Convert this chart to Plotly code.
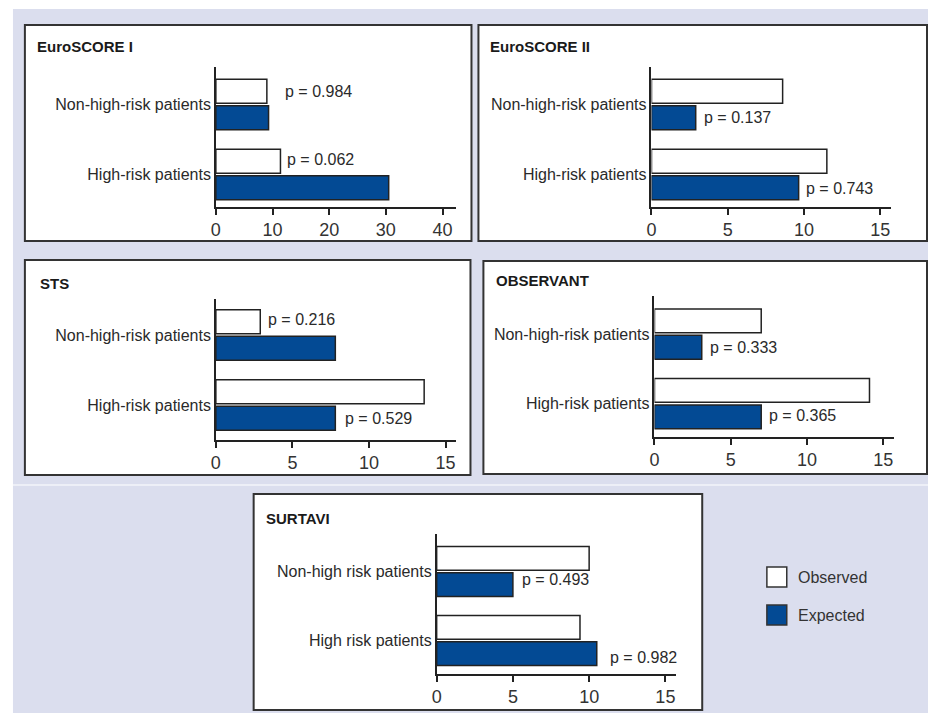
import plotly.graph_objects as go

W, H = 928, 713

# ---------------- data ----------------
categories = ["High-risk patients", "Non-high-risk patients"]
surtavi_categories = ["High risk patients", "Non-high risk patients"]
panel_titles = ["EuroSCORE I", "EuroSCORE II", "STS", "OBSERVANT", "SURTAVI"]

euroscore1_observed = [11.4, 9.0]
euroscore1_expected = [30.5, 9.3]
euroscore2_observed = [11.5, 8.6]
euroscore2_expected = [9.65, 2.9]
sts_observed = [13.6, 2.9]
sts_expected = [7.8, 7.8]
observant_observed = [14.1, 7.0]
observant_expected = [7.0, 3.1]
surtavi_observed = [9.4, 10.0]
surtavi_expected = [10.5, 5.0]

euroscore1_p = ["p = 0.062", "p = 0.984"]
euroscore2_p = ["p = 0.743", "p = 0.137"]
sts_p = ["p = 0.529", "p = 0.216"]
observant_p = ["p = 0.365", "p = 0.333"]
surtavi_p = ["p = 0.982", "p = 0.493"]

# which bar each p label sits next to (per category)
euroscore1_p_row = ["observed", "observed"]
euroscore2_p_row = ["expected", "expected"]
sts_p_row = ["expected", "observed"]
observant_p_row = ["expected", "expected"]
surtavi_p_row = ["expected", "expected"]

ticks_40 = [0, 10, 20, 30, 40]
ticks_15 = [0, 5, 10, 15]

legend_labels = ["Observed", "Expected"]

# ---------------- style / layout ----------------
BG = "#dbdeee"
BLUE = "#034a94"
EDGE = "#222222"
FONT = "Liberation Sans, Arial, sans-serif"

panels = [
    dict(title=panel_titles[0], cats=categories, obs=euroscore1_observed, exp=euroscore1_expected,
         p=euroscore1_p, prow=euroscore1_p_row, ticks=ticks_40,
         box=(20, 25, 469, 241), plot=(212, 453, 67, 207), xr=[0, 42.3], yr=[-0.464, 1.536],
         title_pos=(30, 47), pshift=[(5, 2), (16, 0)]),
    dict(title=panel_titles[1], cats=categories, obs=euroscore2_observed, exp=euroscore2_expected,
         p=euroscore2_p, prow=euroscore2_p_row, ticks=ticks_15,
         box=(476, 25, 927, 241), plot=(650, 891, 67, 207), xr=[0, 15.72], yr=[-0.464, 1.536],
         title_pos=(486, 47), pshift=[(5, -1), (6, 0)]),
    dict(title=panel_titles[2], cats=categories, obs=sts_observed, exp=sts_expected,
         p=sts_p, prow=sts_p_row, ticks=ticks_15,
         box=(20, 260, 468, 475), plot=(212, 453, 299, 440), xr=[0, 15.65], yr=[-0.5, 1.514],
         title_pos=(33, 283), pshift=[(8, 0), (6, 2)]),
    dict(title=panel_titles[3], cats=categories, obs=observant_observed, exp=observant_expected,
         p=observant_p, prow=observant_p_row, ticks=ticks_15,
         box=(481, 261, 927, 474), plot=(653, 894, 296, 437), xr=[0, 15.72], yr=[-0.48, 1.547],
         title_pos=(492, 280), pshift=[(6, 1), (6, 0)]),
    dict(title=panel_titles[4], cats=surtavi_categories, obs=surtavi_observed, exp=surtavi_expected,
         p=surtavi_p, prow=surtavi_p_row, ticks=ticks_15,
         box=(250, 494, 701, 710), plot=(434, 675, 534, 674), xr=[0, 15.72], yr=[-0.486, 1.543],
         title_pos=(260, 518), pshift=[(11, -4), (7, 5)]),
]


def px(x):
    return x / W


def py(y):
    return 1 - y / H


fig = go.Figure()
shapes = [
    dict(type="rect", xref="paper", yref="paper", x0=px(8), x1=1, y0=0, y1=py(9),
         fillcolor=BG, line=dict(width=0), layer="below"),
    dict(type="line", xref="paper", yref="paper", x0=px(8), x1=1, y0=py(485), y1=py(485),
         line=dict(color="white", width=1.2), layer="below"),
]
annotations = []
layout_axes = {}

for i, p in enumerate(panels):
    n = "" if i == 0 else str(i + 1)
    xa, ya = "x" + n, "y" + n
    # expected first so that it is drawn under observed within each group
    fig.add_trace(go.Bar(y=p["cats"], x=p["exp"], orientation="h", name=legend_labels[1],
                         marker=dict(color=BLUE, line=dict(color=EDGE, width=1.5)),
                         xaxis=xa, yaxis=ya, showlegend=False, hoverinfo="x+y"))
    fig.add_trace(go.Bar(y=p["cats"], x=p["obs"], orientation="h", name=legend_labels[0],
                         marker=dict(color="white", line=dict(color=EDGE, width=1.5)),
                         xaxis=xa, yaxis=ya, showlegend=False, hoverinfo="x+y"))
    x0, x1, yt, yb = p["plot"]
    layout_axes["xaxis" + n] = dict(
        domain=[px(x0), px(x1)], anchor=ya, range=p["xr"], tickvals=p["ticks"],
        showline=True, linecolor=EDGE, linewidth=1.5, ticks="outside", ticklen=6,
        tickwidth=1.5, tickcolor=EDGE, showgrid=False, zeroline=False,
        tickfont=dict(family=FONT, size=18, color="#333333"), fixedrange=True)
    layout_axes["yaxis" + n] = dict(
        domain=[py(yb), py(yt)], anchor=xa, range=p["yr"], type="category",
        categoryorder="array", categoryarray=p["cats"],
        showline=True, linecolor=EDGE, linewidth=1.5, ticks="", showgrid=False,
        zeroline=False, tickfont=dict(family=FONT, size=16, color="#2a2a2a"),
        fixedrange=True)
    bx0, by0, bx1, by1 = p["box"]
    shapes.append(dict(type="rect", xref="paper", yref="paper", x0=px(bx0), x1=px(bx1),
                       y0=py(by1), y1=py(by0), fillcolor="white",
                       line=dict(color="#333333", width=2), layer="below"))
    tx, ty = p["title_pos"]
    annotations.append(dict(text="<b>" + p["title"] + "</b>", xref="paper", yref="paper",
                            x=px(tx), y=py(ty), xanchor="left", yanchor="middle",
                            showarrow=False, font=dict(family=FONT, size=15, color="#1a1a1a")))
    for k, cat in enumerate(p["cats"]):
        row = p["prow"][k]
        val = p["obs"][k] if row == "observed" else p["exp"][k]
        off = 0.19 if row == "observed" else -0.19
        dx, dy = p["pshift"][k]
        annotations.append(dict(text=p["p"][k], xref=xa, yref=ya, x=val, y=k + off,
                                xanchor="left", yanchor="middle", xshift=dx, yshift=dy,
                                showarrow=False,
                                font=dict(family=FONT, size=16, color="#2a2a2a")))

# legend drawn manually
legend_fill = ["white", BLUE]
legend_y = [577, 615]
for lab, col, ly in zip(legend_labels, legend_fill, legend_y):
    shapes.append(dict(type="rect", xref="paper", yref="paper", x0=px(766), x1=px(786),
                       y0=py(ly + 10), y1=py(ly - 10), fillcolor=col,
                       line=dict(color="#333333", width=1.5)))
    annotations.append(dict(text=lab, xref="paper", yref="paper", x=px(795), y=py(ly),
                            xanchor="left", yanchor="middle", showarrow=False,
                            font=dict(family=FONT, size=16, color="#333333")))

fig.update_layout(
    width=W, height=H, margin=dict(l=0, r=0, t=0, b=0),
    paper_bgcolor="white", plot_bgcolor="rgba(0,0,0,0)",
    barmode="group", bargap=0.24, bargroupgap=0.1,
    shapes=shapes, annotations=annotations, showlegend=False,
    **layout_axes,
)

fig.write_html("out.html", config={"displayModeBar": False},
               post_script="document.body.style.margin='0';document.body.style.overflow='hidden';")
